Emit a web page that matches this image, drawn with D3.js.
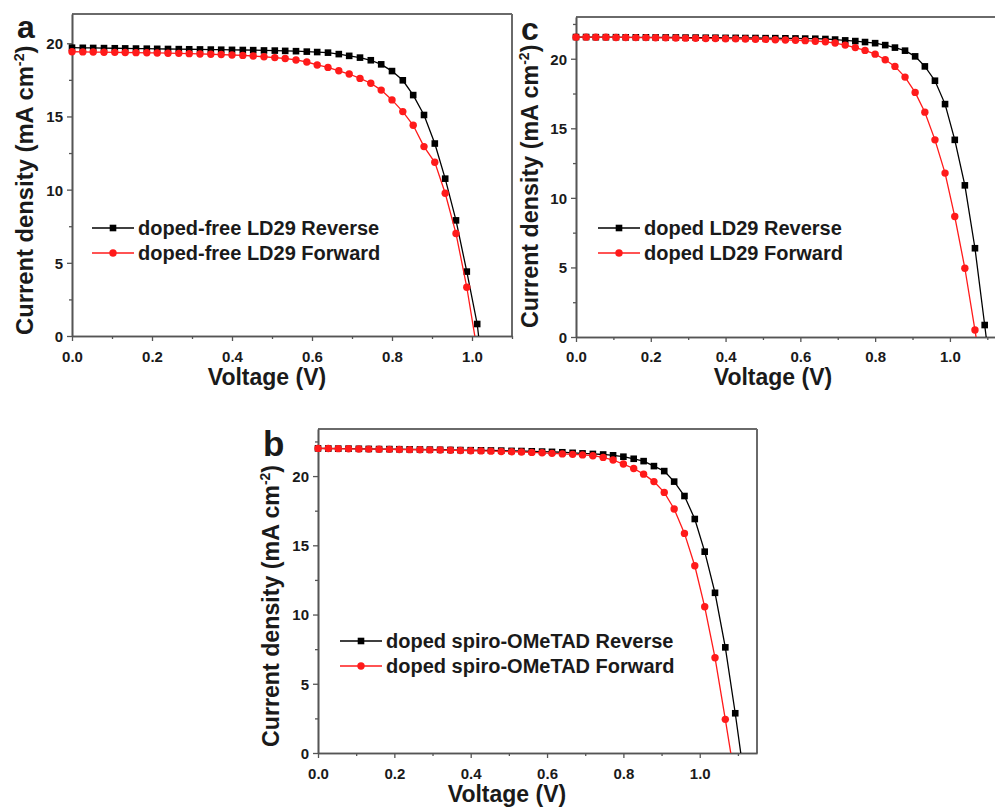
<!DOCTYPE html>
<html><head><meta charset="utf-8">
<script src="https://cdn.jsdelivr.net/npm/d3@7"></script>
<style>
body{margin:0;background:#fff}
svg{display:block}
text{font-family:"Liberation Sans",Arial,Helvetica,sans-serif;font-weight:bold;fill:#1a1a1a}
</style>
</head><body>
<svg id="chart" width="995" height="807"></svg>
<script>
// Shared voltage grid (V)
const voltage = [0.000,0.027,0.053,0.080,0.107,0.133,0.160,0.187,0.213,0.240,
  0.267,0.293,0.320,0.347,0.373,0.400,0.427,0.453,0.480,0.507,
  0.533,0.560,0.587,0.613,0.640,0.667,0.693,0.720,0.747,0.773,
  0.800,0.827,0.853,0.880,0.907,0.933,0.960,0.987,1.013,1.040,
  1.067,1.093,1.120];

// Panel a: doped-free LD29 (mA cm-2)
const aReverse = [19.70,19.69,19.68,19.67,19.66,19.65,19.64,19.63,19.62,19.61,
  19.60,19.59,19.58,19.57,19.56,19.55,19.54,19.53,19.51,19.50,
  19.48,19.46,19.43,19.40,19.36,19.26,19.14,19.02,18.84,18.56,
  18.10,17.47,16.46,15.10,13.15,10.75,7.90,4.40,0.82,-5.5];
const aForward = [19.42,19.41,19.40,19.39,19.38,19.37,19.36,19.35,19.34,19.32,
  19.31,19.29,19.27,19.25,19.23,19.20,19.17,19.13,19.08,19.02,
  18.96,18.86,18.72,18.52,18.35,18.12,17.90,17.60,17.27,16.80,
  16.13,15.33,14.40,12.94,11.87,9.75,7.00,3.33,-1.0];

// Panel c: doped LD29
const cReverse = [21.56,21.56,21.55,21.55,21.55,21.54,21.54,21.54,21.53,21.53,
  21.53,21.52,21.52,21.51,21.51,21.50,21.50,21.49,21.49,21.48,
  21.48,21.47,21.46,21.45,21.44,21.42,21.38,21.32,21.27,21.20,
  21.12,20.98,20.80,20.58,20.17,19.45,18.42,16.74,14.17,10.90,
  6.38,0.86,-5.0];
const cForward = [21.55,21.55,21.54,21.54,21.53,21.53,21.52,21.52,21.51,21.50,
  21.49,21.48,21.47,21.46,21.45,21.44,21.43,21.42,21.40,21.39,
  21.37,21.35,21.33,21.30,21.26,21.22,21.13,20.98,20.80,20.60,
  20.33,19.93,19.45,18.68,17.58,16.16,14.17,11.78,8.66,4.94,
  0.50,-4.0];

// Panel b: doped spiro-OMeTAD
const bReverse = [22.00,21.99,21.98,21.98,21.97,21.96,21.95,21.95,21.94,21.93,
  21.92,21.91,21.90,21.89,21.88,21.87,21.86,21.85,21.84,21.82,
  21.81,21.79,21.77,21.75,21.72,21.68,21.64,21.60,21.56,21.50,
  21.40,21.25,21.08,20.72,20.36,19.60,18.56,16.90,14.54,11.57,
  7.63,2.87,-2.5];
const bForward = [22.00,21.99,21.98,21.97,21.96,21.95,21.94,21.93,21.92,21.91,
  21.90,21.89,21.88,21.86,21.85,21.83,21.82,21.80,21.78,21.76,
  21.74,21.71,21.68,21.64,21.60,21.57,21.53,21.47,21.35,21.16,
  20.87,20.55,20.14,19.60,18.82,17.62,15.86,13.52,10.56,6.88,
  2.43,-2.0];

const xTicks = [0, 0.2, 0.4, 0.6, 0.8, 1.0];
const xMinorTicks = [0.1, 0.3, 0.5, 0.7, 0.9, 1.1];
const yTicks = [0, 5, 10, 15, 20];
const yMinorTicks = [2.5, 7.5, 12.5, 17.5, 22.5];
const xTitle = "Voltage (V)";
const legendA = ["doped-free LD29 Reverse", "doped-free LD29 Forward"];
const legendC = ["doped LD29 Reverse", "doped LD29 Forward"];
const legendB = ["doped spiro-OMeTAD Reverse", "doped spiro-OMeTAD Forward"];

const svg = d3.select("#chart");

const panels = [
  {id:"a", letter:"a", rev:aReverse, fwd:aForward, legend:legendA,
   xr:[72,512], yr:[336,14], xd:[0,1.1], yd:[0,22], right:true,
   letterPos:[17,38,32], yTitleX:33, yTitleStart:335, yTitleSize:23.8,
   xTitleX:267, xTitleY:385, tickY:362, legX:92, legY:228},
  {id:"c", letter:"c", rev:cReverse, fwd:cForward, legend:legendC,
   xr:[576,1006], yr:[337,17], xd:[0,1.15], yd:[0,23], right:false,
   letterPos:[521,40,32], yTitleX:538, yTitleStart:328, yTitleSize:23.3,
   xTitleX:773, xTitleY:385, tickY:362, legX:598, legY:228},
  {id:"b", letter:"b", rev:bReverse, fwd:bForward, legend:legendB,
   xr:[318,757], yr:[753,429], xd:[0,1.15], yd:[0,23.4], right:true,
   letterPos:[263,456,35], yTitleX:279, yTitleStart:747, yTitleSize:23.2,
   xTitleX:507, xTitleY:802, tickY:779, legX:340, legY:641}
];

panels.forEach(p => {
  const g = svg.append("g");
  const x = d3.scaleLinear().domain(p.xd).range(p.xr);
  const y = d3.scaleLinear().domain(p.yd).range(p.yr);
  const clipId = "clip-" + p.id;
  svg.append("clipPath").attr("id", clipId).append("rect")
    .attr("x", p.xr[0]).attr("y", p.yr[1])
    .attr("width", Math.min(p.xr[1], 995) - p.xr[0]).attr("height", p.yr[0] - p.yr[1]);

  // frame top / right
  g.append("line").attr("x1", p.xr[0]).attr("x2", p.xr[1]).attr("y1", p.yr[1]).attr("y2", p.yr[1])
    .attr("stroke", "#6a6a6a").attr("stroke-width", 2);
  if (p.right) {
    g.append("line").attr("x1", p.xr[1]).attr("x2", p.xr[1]).attr("y1", p.yr[1]).attr("y2", p.yr[0])
      .attr("stroke", "#6a6a6a").attr("stroke-width", 2);
  }

  // axes
  const xa = g.append("g").attr("transform", `translate(0,${p.yr[0]})`)
    .call(d3.axisBottom(x).tickValues(xTicks).tickFormat(d3.format(".1f")).tickSize(5).tickSizeOuter(0).tickPadding(3));
  const xm = g.append("g").attr("transform", `translate(0,${p.yr[0]})`)
    .call(d3.axisBottom(x).tickValues(xMinorTicks.filter(v => v <= p.xd[1])).tickFormat("").tickSize(3).tickSizeOuter(0));
  const ya = g.append("g").attr("transform", `translate(${p.xr[0]},0)`)
    .call(d3.axisLeft(y).tickValues(yTicks).tickSize(5).tickSizeOuter(0).tickPadding(4));
  const ym = g.append("g").attr("transform", `translate(${p.xr[0]},0)`)
    .call(d3.axisLeft(y).tickValues(yMinorTicks.filter(v => v <= p.yd[1])).tickFormat("").tickSize(3).tickSizeOuter(0));
  [xa, xm, ya, ym].forEach(a => {
    a.select(".domain").attr("stroke", "#555").attr("stroke-width", 1.6);
    a.selectAll(".tick line").attr("stroke", "#555").attr("stroke-width", 1.3);
    a.selectAll("text").attr("font-size", 15).attr("fill", "#222")
      .style("font-family", '"Liberation Sans",Arial,sans-serif').style("font-weight", "bold");
  });
  xa.selectAll(".tick text").attr("y", null).attr("dy", null)
    .attr("transform", `translate(0,${p.tickY - p.yr[0]})`);
  ya.selectAll(".tick text").attr("dy", "0.36em");

  // titles
  g.append("text").attr("x", p.xTitleX).attr("y", p.xTitleY).attr("text-anchor", "middle")
    .attr("font-size", 23).text(xTitle);
  const yt = g.append("text").attr("text-anchor", "start").attr("font-size", p.yTitleSize)
    .attr("transform", `translate(${p.yTitleX},${p.yTitleStart}) rotate(-90)`);
  yt.append("tspan").text("Current density (mA cm");
  yt.append("tspan").attr("font-size", p.yTitleSize * 0.6).attr("dy", -9).text("-2");
  yt.append("tspan").attr("dy", 9).text(")");

  g.append("text").attr("x", p.letterPos[0]).attr("y", p.letterPos[1])
    .attr("font-size", p.letterPos[2]).attr("fill", "#111").text(p.letter);

  // data
  const series = [
    {vals:p.rev, color:"#000000", shape:"square"},
    {vals:p.fwd, color:"#ff1a1a", shape:"circle"}
  ];
  const line = d3.line().x(d => x(d[0])).y(d => y(d[1]));
  series.forEach(s => {
    const pts = s.vals.map((j, i) => [voltage[i], j]);
    g.append("path").datum(pts).attr("d", line).attr("fill", "none")
      .attr("stroke", s.color).attr("stroke-width", 1.3).attr("clip-path", `url(#${clipId})`);
    const vis = pts.filter(d => d[1] >= 0);
    if (s.shape === "square") {
      g.selectAll(null).data(vis).enter().append("rect")
        .attr("x", d => x(d[0]) - 3.3).attr("y", d => y(d[1]) - 3.3)
        .attr("width", 6.6).attr("height", 6.6).attr("fill", s.color);
    } else {
      g.selectAll(null).data(vis).enter().append("circle")
        .attr("cx", d => x(d[0])).attr("cy", d => y(d[1])).attr("r", 3.7).attr("fill", s.color);
    }
  });

  // legend
  series.forEach((s, i) => {
    const ly = p.legY + i * 25;
    g.append("line").attr("x1", p.legX).attr("x2", p.legX + 42).attr("y1", ly).attr("y2", ly)
      .attr("stroke", s.color).attr("stroke-width", 1.3);
    const mx = p.legX + 21;
    if (s.shape === "square") {
      g.append("rect").attr("x", mx - 3.3).attr("y", ly - 3.3).attr("width", 6.6).attr("height", 6.6).attr("fill", s.color);
    } else {
      g.append("circle").attr("cx", mx).attr("cy", ly).attr("r", 3.7).attr("fill", s.color);
    }
    g.append("text").attr("x", p.legX + 46).attr("y", ly + 7).attr("font-size", 20).text(p.legend[i]);
  });
});
</script>
</body></html>
